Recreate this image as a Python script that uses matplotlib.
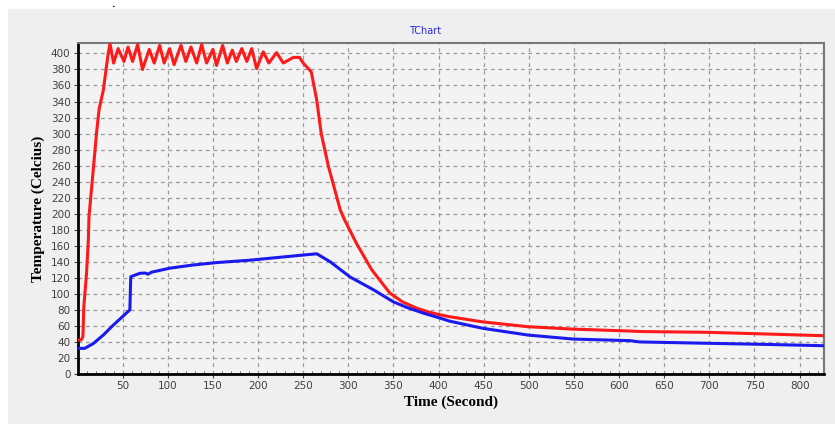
import matplotlib
matplotlib.use("Agg")
import matplotlib.pyplot as plt
from matplotlib.ticker import MultipleLocator
from matplotlib.patches import Rectangle

# ---- data ----
red_t = [0, 4, 6, 7, 10, 12, 12.7, 19.4, 21, 24, 28.6, 34, 36,
         40, 45, 51.5, 56, 61, 66.6, 72, 79.5, 85, 91, 96, 102, 107, 114.6,
         120, 125.7, 132, 137.5, 143, 150, 154, 160.8, 166, 171.5, 176, 182,
         187.6, 193, 198.4, 205.8, 212, 220.5, 228, 239, 246, 250, 259, 265,
         270, 278, 285, 291, 296, 309, 326, 346, 360, 376, 390, 401, 412, 449,
         499, 549, 612, 623, 699, 760, 826]
red_y = [42.4, 42.4, 46.5, 84, 125.6, 167, 196, 279, 300, 331, 354, 400, 412,
         388, 406, 390, 408, 390, 411, 380, 405, 388, 410, 388, 406, 386, 410,
         390, 408, 388, 411, 388, 405, 385, 410, 388, 404, 390, 406,
         390, 406, 381, 402, 388, 401, 388, 395, 395, 388, 377, 342,
         300, 259, 230, 205, 192, 163, 130, 101, 90, 82, 77, 74, 71.5, 65,
         59, 56, 53.6, 53, 52, 50, 47.8]

blue_t = [0, 8, 17.5, 28.6, 39.6, 49, 58, 59, 69, 75, 78, 82, 102, 128, 154,
          191, 246, 265, 280, 302, 328, 350, 365, 383, 401, 412, 449, 499, 549,
          612, 623, 699, 760, 826]
blue_y = [32, 32, 38, 48.6, 61, 70.7, 80, 121.4, 125.6, 126, 124.5, 127, 132,
          136, 139, 142, 148, 150, 140, 121, 105, 90, 83, 76, 70, 66, 57, 48.6,
          43.6, 41.6, 40, 38.3, 37, 35.3]

x_ticks = [50, 100, 150, 200, 250, 300, 350, 400, 450, 500, 550, 600, 650,
           700, 750, 800]
y_ticks = list(range(0, 401, 20))

title = "TChart"
xlabel = "Time (Second)"
ylabel = "Temperature (Celcius)"

# ---- figure ----
W, H = 835, 424
fig = plt.figure(figsize=(W / 100, H / 100), dpi=100)
fig.patch.set_facecolor("#efefef")
# white strip at top / left
fig.patches.append(Rectangle((0, 1 - 9 / H), 1, 9 / H, transform=fig.transFigure,
                             facecolor="white", edgecolor="none", zorder=0))
fig.patches.append(Rectangle((0, 0), 8 / W, 1, transform=fig.transFigure,
                             facecolor="white", edgecolor="none", zorder=0))
fig.text(113 / W, 1 - 9 / H, ".", fontsize=6, fontweight="bold",
         ha="center", va="bottom", color="black")

left, right, bottom, top = 77.5 / W, 824 / W, (H - 374) / H, (H - 43) / H
ax = fig.add_axes([left, bottom, right - left, top - bottom])
ax.set_facecolor("#f3f3f3")

ax.plot(red_t, red_y, color="#ff1a1a", lw=2.2, solid_joinstyle="round", zorder=3)
ax.plot(blue_t, blue_y, color="#1a1aee", lw=2.2, solid_joinstyle="round", zorder=3)

ax.set_xlim(0, 827)
ax.set_ylim(0, 413)
ax.set_xticks(x_ticks)
ax.set_yticks(y_ticks)
ax.xaxis.set_minor_locator(MultipleLocator(10))

ax.grid(True, which="major", color="#9a9a9a", linestyle=(0, (3, 3)), lw=0.9)
ax.set_axisbelow(True)

for s in ["left", "bottom"]:
    ax.spines[s].set_color("black")
    ax.spines[s].set_linewidth(2)
for s in ["top", "right"]:
    ax.spines[s].set_color("#777777")
    ax.spines[s].set_linewidth(1.5)

ax.tick_params(axis="both", which="major", labelsize=7.5, labelcolor="#404040",
               color="#404040", length=3, width=0.8, pad=2)
ax.tick_params(axis="x", which="minor", length=2, width=0.6, color="#404040",
               direction="in")
for lab in ax.get_xticklabels() + ax.get_yticklabels():
    lab.set_family("DejaVu Sans")

ax.set_xlabel(xlabel, family="Liberation Serif", fontweight="bold", fontsize=11,
              labelpad=3)
ax.set_ylabel(ylabel, family="Liberation Serif", fontweight="bold", fontsize=11,
              labelpad=4)

fig.text(425 / W, 1 - 31 / H, title, color="#2b2bd6", fontsize=7,
         ha="center", va="center", family="DejaVu Sans")

fig.savefig("out.png", dpi=100, facecolor=fig.get_facecolor())
